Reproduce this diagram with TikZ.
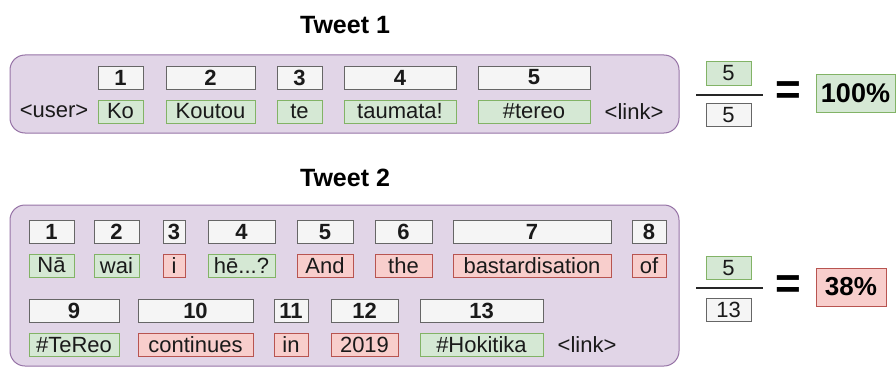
\documentclass[tikz,border=0pt]{standalone}
\usepackage{fontspec}
\setmainfont{Liberation Sans}
\definecolor{purfill}{HTML}{E1D5E7}
\definecolor{purdraw}{HTML}{9673A6}
\definecolor{grfill}{HTML}{D5E8D4}
\definecolor{grdraw}{HTML}{82B366}
\definecolor{rdfill}{HTML}{F8CECC}
\definecolor{rddraw}{HTML}{B85450}
\definecolor{nbfill}{HTML}{F5F5F5}
\definecolor{nbdraw}{HTML}{666666}
\definecolor{txt}{HTML}{1A1A1A}
\tikzset{
  tweetbox/.style={draw=purdraw, fill=purfill, line width=1pt, rounded corners=15pt},
  basebox/.style={rectangle, inner sep=0pt, line width=1pt, minimum height=23pt, text=txt, font=\fontsize{22}{22}\selectfont},
  nb/.style={basebox, draw=nbdraw, fill=nbfill, font=\fontsize{22}{22}\selectfont\bfseries},
  gw/.style={basebox, draw=grdraw, fill=grfill},
  rw/.style={basebox, draw=rddraw, fill=rdfill},
  plain/.style={inner sep=0pt, text=txt, font=\fontsize{22}{22}\selectfont},
  title/.style={inner sep=0pt, font=\fontsize{25}{25}\selectfont\bfseries},
  eqsign/.style={inner sep=0pt, font=\fontsize{44}{44}\selectfont\bfseries},
  resbox/.style={rectangle, inner sep=0pt, line width=1pt, minimum height=38pt, font=\fontsize{27}{27}\selectfont\bfseries},
  fracline/.style={line width=2pt, draw=black!85}
}
\begin{document}
\begin{tikzpicture}[x=1pt,y=-1pt]
\useasboundingbox (0,0) rectangle (896,369);
% ---------------- Tweet 1 ----------------
\node[title] (t1) at (345,25) {Tweet 1};
\draw[tweetbox] (10,55) rectangle (679,133);
\node[nb, minimum width=45pt] (a1) at (120.5,77.5) {1};
\node[nb, minimum width=89pt] (a2) at (210.5,77.5) {2};
\node[nb, minimum width=45pt] (a3) at (299.5,77.5) {3};
\node[nb, minimum width=112pt] (a4) at (400,77.5) {4};
\node[nb, minimum width=112pt] (a5) at (534,77.5) {5};
\node[plain] (u1) at (54,111.5) {<user>};
\node[gw, minimum width=45pt] (w1) at (120.5,111.5) {Ko};
\node[gw, minimum width=89pt] (w2) at (210.5,111.5) {Koutou};
\node[gw, minimum width=45pt] (w3) at (299.5,111.5) {te};
\node[gw, minimum width=112pt] (w4) at (400,111.5) {taumata!};
\node[gw, minimum width=112pt] (w5) at (534,111.5) {\#tereo};
\node[plain] (l1) at (634,111.5) {<link>};
% fraction 1
\node[gw, minimum width=45pt] (fn1) at (728.5,73.5) {5};
\node[nb, minimum width=45pt, font=\fontsize{22}{22}\selectfont] (fd1) at (728.5,115) {5};
\coordinate (fl1a) at (696,95);
\coordinate (fl1b) at (763,95);
\draw[fracline] (fl1a) -- (fl1b);
\node[eqsign] (eq1) at (788,93) {=};
\node[resbox, draw=grdraw, fill=grfill, minimum width=79pt] (r1) at (855.5,93) {100\%};
% ---------------- Tweet 2 ----------------
\node[title] (t2) at (345,178) {Tweet 2};
\draw[tweetbox] (10,205) rectangle (679,366);
\node[nb, minimum width=45pt] (c1) at (51.5,232) {1};
\node[nb, minimum width=45pt] (c2) at (116.5,232) {2};
\node[nb, minimum width=22pt] (c3) at (174,232) {3};
\node[nb, minimum width=67pt] (c4) at (241.5,232) {4};
\node[nb, minimum width=56pt] (c5) at (325,232) {5};
\node[nb, minimum width=57pt] (c6) at (403.5,232) {6};
\node[nb, minimum width=158pt] (c7) at (532,232) {7};
\node[nb, minimum width=34pt] (c8) at (649,232) {8};
\node[gw, minimum width=45pt] (v1) at (51.5,265.5) {Nā};
\node[gw, minimum width=45pt] (v2) at (116.5,265.5) {wai};
\node[rw, minimum width=22pt] (v3) at (174,265.5) {i};
\node[gw, minimum width=67pt] (v4) at (241.5,265.5) {hē...?};
\node[rw, minimum width=56pt] (v5) at (325,265.5) {And};
\node[rw, minimum width=57pt] (v6) at (403.5,265.5) {the};
\node[rw, minimum width=158pt] (v7) at (532,265.5) {bastardisation};
\node[rw, minimum width=34pt] (v8) at (649,265.5) {of};
\node[nb, minimum width=90pt] (c9) at (74,310.5) {9};
\node[nb, minimum width=115pt] (c10) at (195.5,310.5) {10};
\node[nb, minimum width=34pt] (c11) at (291,310.5) {11};
\node[nb, minimum width=67pt] (c12) at (364.5,310.5) {12};
\node[nb, minimum width=123pt] (c13) at (481.5,310.5) {13};
\node[gw, minimum width=90pt] (v9) at (74,345) {\#TeReo};
\node[rw, minimum width=115pt] (v10) at (195.5,345) {continues};
\node[rw, minimum width=34pt] (v11) at (291,345) {in};
\node[rw, minimum width=67pt] (v12) at (364.5,345) {2019};
\node[gw, minimum width=123pt] (v13) at (481.5,345) {\#Hokitika};
\node[plain] (l2) at (587,345) {<link>};
% fraction 2
\node[gw, minimum width=45pt] (fn2) at (728.5,268) {5};
\node[nb, minimum width=45pt, font=\fontsize{22}{22}\selectfont] (fd2) at (728.5,309.5) {13};
\coordinate (fl2a) at (696,288);
\coordinate (fl2b) at (763,288);
\draw[fracline] (fl2a) -- (fl2b);
\node[eqsign] (eq2) at (788,287) {=};
\node[resbox, draw=rddraw, fill=rdfill, minimum width=70pt, font=\fontsize{26}{26}\selectfont\bfseries] (r2) at (851,287) {38\%};
\end{tikzpicture}
\end{document}
